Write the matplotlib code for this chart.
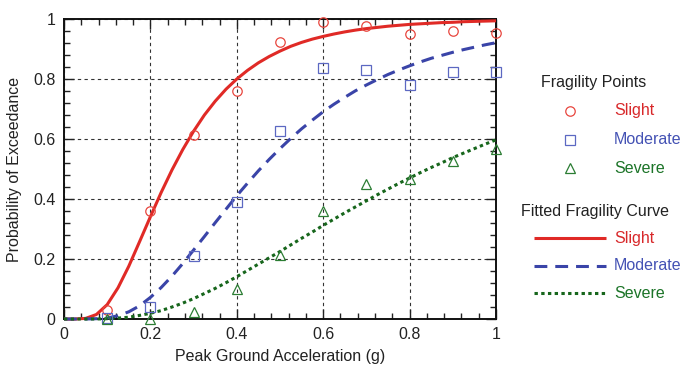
import matplotlib
matplotlib.use("Agg")
import matplotlib.pyplot as plt
from matplotlib.lines import Line2D
from matplotlib.ticker import MultipleLocator

plt.rcParams["font.family"] = ["Liberation Sans", "DejaVu Sans"]

# Observed fragility points at each PGA level
pga_points = [0.1, 0.2, 0.3, 0.4, 0.5, 0.6, 0.7, 0.8, 0.9, 1.0]
slight_points = [0.03, 0.361, 0.614, 0.761, 0.924, 0.989, 0.978, 0.949, 0.960, 0.953]
moderate_points = [0.003, 0.041, 0.209, 0.389, 0.628, 0.837, 0.829, 0.781, 0.822, 0.824]
severe_points = [0.0, 0.0, 0.025, 0.099, 0.213, 0.360, 0.450, 0.466, 0.527, 0.568]

# Fitted fragility curves sampled every 0.025 g
pga_curve = [round(0.025 * i, 3) for i in range(41)]
slight_curve = [0.000, 0.000, 0.002, 0.015, 0.048, 0.104, 0.176, 0.258, 0.341, 0.422,
                0.497, 0.565, 0.626, 0.680, 0.726, 0.766, 0.800, 0.829, 0.854, 0.875,
                0.893, 0.909, 0.922, 0.933, 0.942, 0.950, 0.957, 0.963, 0.968, 0.972,
                0.976, 0.979, 0.982, 0.984, 0.986, 0.988, 0.989, 0.991, 0.992, 0.993,
                0.994]
moderate_curve = [0.000, 0.000, 0.000, 0.001, 0.003, 0.011, 0.024, 0.044, 0.072, 0.105,
                  0.143, 0.185, 0.230, 0.275, 0.321, 0.366, 0.411, 0.453, 0.494, 0.532,
                  0.568, 0.602, 0.634, 0.663, 0.691, 0.716, 0.739, 0.761, 0.780, 0.798,
                  0.815, 0.830, 0.844, 0.857, 0.869, 0.879, 0.889, 0.898, 0.906, 0.914,
                  0.921]
severe_curve = [0.000, 0.000, 0.000, 0.000, 0.001, 0.003, 0.006, 0.012, 0.019, 0.028,
                0.040, 0.053, 0.068, 0.085, 0.102, 0.121, 0.141, 0.162, 0.183, 0.204,
                0.225, 0.247, 0.269, 0.290, 0.312, 0.333, 0.354, 0.374, 0.394, 0.414,
                0.433, 0.452, 0.470, 0.488, 0.505, 0.521, 0.538, 0.553, 0.568, 0.583,
                0.597]

states = ["Slight", "Moderate", "Severe"]
line_colors = ["#e02a26", "#3a44a8", "#17661c"]
marker_colors = ["#e8463e", "#5c68c2", "#2b7d33"]
text_colors = ["#d8282a", "#4452b4", "#1c7428"]
markers = ["o", "s", "^"]
line_styles = ["-", (0, (4.2, 2.6)), (0, (1.1, 1.1))]

fig = plt.figure(figsize=(6.84, 3.73), dpi=100)
ax = fig.add_axes([64 / 684, 54 / 373, 432 / 684, 300 / 373])

for xs, ys, c, ls in zip([pga_curve] * 3, [slight_curve, moderate_curve, severe_curve],
                         line_colors, line_styles):
    ax.plot(xs, ys, color=c, lw=2.2, linestyle=ls, zorder=3, clip_on=False,
            solid_capstyle="butt", dash_capstyle="butt")

for ys, c, m in zip([slight_points, moderate_points, severe_points], marker_colors, markers):
    ax.plot(pga_points, ys, linestyle="none", marker=m, ms=6.8 if m != "^" else 6.5,
            mfc="none", mec=c, mew=0.9, zorder=4, clip_on=False)

ax.set_xlim(0, 1)
ax.set_ylim(0, 1)
ax.xaxis.set_major_locator(MultipleLocator(0.2))
ax.yaxis.set_major_locator(MultipleLocator(0.2))
ax.xaxis.set_minor_locator(MultipleLocator(0.04))
ax.yaxis.set_minor_locator(MultipleLocator(0.04))
ax.set_xticklabels(["0", "0.2", "0.4", "0.6", "0.8", "1"])
ax.set_yticklabels(["0", "0.2", "0.4", "0.6", "0.8", "1"])
ax.set_xticks([0, 0.2, 0.4, 0.6, 0.8, 1.0])
ax.set_yticks([0, 0.2, 0.4, 0.6, 0.8, 1.0])
ax.set_xticklabels(["0", "0.2", "0.4", "0.6", "0.8", "1"])
ax.set_yticklabels(["0", "0.2", "0.4", "0.6", "0.8", "1"])
ax.tick_params(which="both", direction="in", top=True, right=True, labelsize=11.5,
               colors="#222222", width=1.0)
ax.tick_params(which="major", length=7, pad=6)
ax.tick_params(which="minor", length=4)
for s in ax.spines.values():
    s.set_linewidth(1.4)
    s.set_color("#111111")

ax.grid(True, which="major", color="#333333", linestyle=(0, (3, 3)), linewidth=0.8)
ax.set_axisbelow(True)

ax.set_xlabel("Peak Ground Acceleration (g)", fontsize=11.5, color="#222222", labelpad=5)
ax.set_ylabel("Probability of Exceedance", fontsize=11.5, color="#222222", labelpad=8)

# Legend for fragility points
fig.text(541 / 684, 1 - 82 / 373, "Fragility Points", fontsize=11.5, color="#222222",
         va="center", ha="left")
rows_pts = [111, 140, 168]
for y, c, m, lab, tc in zip(rows_pts, marker_colors, markers, states, text_colors):
    fig.add_artist(Line2D([570 / 684], [1 - y / 373], marker=m, linestyle="none",
                          ms=6.8 if m != "^" else 6.5, mfc="none", mec=c, mew=0.9,
                          transform=fig.transFigure))
    fig.text(614 / 684, 1 - y / 373, lab, fontsize=11.5, color=tc, va="center", ha="left")

# Legend for fitted curves
fig.text(521 / 684, 1 - 211 / 373, "Fitted Fragility Curve", fontsize=11.5,
         color="#222222", va="center", ha="left")
rows_ln = [238, 266, 293]
for y, c, ls, lab, tc in zip(rows_ln, line_colors, line_styles, states, text_colors):
    fig.add_artist(Line2D([534 / 684, 606 / 684], [1 - y / 373, 1 - y / 373], color=c,
                          lw=2.2, linestyle=ls, transform=fig.transFigure,
                          solid_capstyle="butt", dash_capstyle="butt"))
    fig.text(614 / 684, 1 - y / 373, lab, fontsize=11.5, color=tc, va="center", ha="left")

fig.savefig("out.png", dpi=100)
